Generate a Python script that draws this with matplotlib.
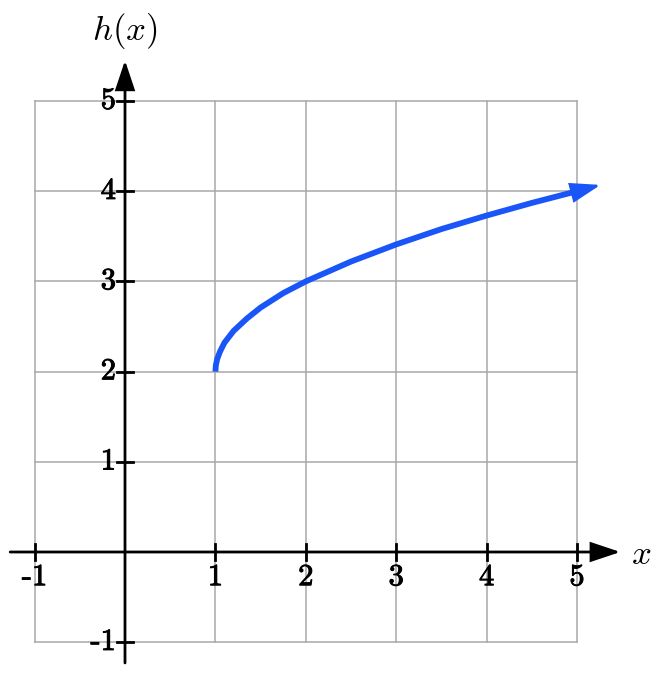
import matplotlib
matplotlib.use("Agg")
from matplotlib import pyplot as plt
import matplotlib.patheffects as pe

plt.rcParams["mathtext.fontset"] = "cm"

# ticks / grid
X_TICKS = [-1, 1, 2, 3, 4, 5]
Y_TICKS = [-1, 1, 2, 3, 4, 5]
GRID = [-1, 0, 1, 2, 3, 4, 5]

# h(x) curve, points
curve_x = [1.0, 1.005, 1.02, 1.05, 1.1, 1.2, 1.35, 1.5, 1.75, 2.0, 2.5, 3.0, 3.5, 4.0, 4.5, 5.0]
curve_y = [2.0, 2.07, 2.14, 2.22, 2.32, 2.45, 2.59, 2.71, 2.87, 3.0, 3.22, 3.41, 3.58, 3.73, 3.87, 4.0]
arrow_tip = (5.26, 4.07)

BLUE = "#1a55f7"
GRID_COL = "#a8a8a8"
HEAD = "-|>,head_length=0.36,head_width=0.12"

fig = plt.figure(figsize=(6.64, 6.82), dpi=100)
ax = fig.add_axes([0, 0, 1, 1])
# pixel mapping: x=0 at 125px, 90.4px/unit ; y=0 at 552px, 90.2px/unit
ax.set_xlim(-125 / 90.4, (664 - 125) / 90.4)
ax.set_ylim(-(682 - 552) / 90.2, 552 / 90.2)
ax.axis("off")

# grid
for g in GRID:
    ax.plot([g, g], [-1, 5], color=GRID_COL, lw=1.1, zorder=1)
    ax.plot([-1, 5], [g, g], color=GRID_COL, lw=1.1, zorder=1)

# axes with arrows
ax.annotate("", xy=(5.48, 0), xytext=(-1.27, 0),
            arrowprops=dict(arrowstyle=HEAD, color="black", lw=2, mutation_scale=50,
                            shrinkA=0, shrinkB=0, joinstyle="miter"), zorder=3)
ax.annotate("", xy=(0, 5.45), xytext=(0, -1.23),
            arrowprops=dict(arrowstyle=HEAD, color="black", lw=2, mutation_scale=50,
                            shrinkA=0, shrinkB=0, joinstyle="miter"), zorder=3)

# tick marks and labels
tk = 0.09
bold = [pe.withStroke(linewidth=0.7, foreground="black")]
for t in X_TICKS:
    ax.plot([t, t], [-tk, tk], color="black", lw=2, zorder=3)
    ax.text(t, -0.13, str(t), ha="center", va="top", fontsize=22,
            family="cmr10", zorder=4, path_effects=bold)
for t in Y_TICKS:
    ax.plot([-tk, tk], [t, t], color="black", lw=2, zorder=3)
    ax.text(-0.1, t, str(t), ha="right", va="center", fontsize=22,
            family="cmr10", zorder=4, path_effects=bold)

ax.text(0, 5.55, r"$h(x)$", ha="center", va="bottom", fontsize=25)
ax.text(5.6, -0.02, r"$x$", ha="left", va="center", fontsize=25)

# curve
ax.plot(curve_x, curve_y, color=BLUE, lw=4.2, solid_capstyle="butt", zorder=5)
ax.annotate("", xy=arrow_tip, xytext=(curve_x[-1], curve_y[-1]),
            arrowprops=dict(arrowstyle="-|>,head_length=0.36,head_width=0.12", color=BLUE,
                            lw=2, mutation_scale=50, shrinkA=0, shrinkB=0,
                            joinstyle="miter"), zorder=5)

fig.savefig("out.png", dpi=100)
